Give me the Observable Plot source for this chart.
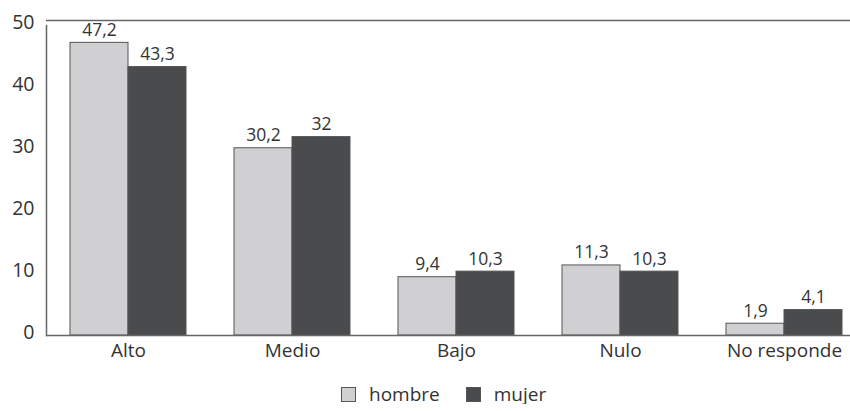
<!DOCTYPE html>
<html><head><meta charset="utf-8">
<script src="https://cdn.jsdelivr.net/npm/d3@7"></script>
<script src="https://cdn.jsdelivr.net/npm/@observablehq/plot@0.6"></script>
<style>
body{margin:0;background:#fff;overflow:hidden;font-family:"Open Sans",sans-serif;}
#legend{display:flex;align-items:center;height:20px;margin-top:6px;padding-left:341px;font-size:19px;color:#333;}
.sw{width:13px;height:13px;border:1px solid #555;display:inline-block;margin-right:13px;}
.item{display:flex;align-items:center;margin-right:26px;}
g[aria-label="fx-axis tick label"], g[aria-label="fx-axis tick label"] text{font-size:19px;fill:#333;}
</style></head><body><div id="chart"></div><div id="legend"></div>
<script>
const categories = ["Alto","Medio","Bajo","Nulo","No responde"];
const series = ["hombre","mujer"];
const hombre = [47.2,30.2,9.4,11.3,1.9];
const mujer = [43.3,32,10.3,10.3,4.1];
const yTicks = [0,10,20,30,40,50];
const colors = ["#d0d0d2","#4a4b4d"];

const data = categories.flatMap((c,i)=>[
  {cat:c, sexo:series[0], v:hombre[i]},
  {cat:c, sexo:series[1], v:mujer[i]}
]);
const fmt = v => String(v).replace(".", ",");

const plot = Plot.plot({
  width:850, height:378, marginLeft:46, marginRight:-16, marginTop:25, marginBottom:43,
  style:{fontFamily:'"Open Sans", sans-serif', color:"#333", background:"#fff"},
  fx:{domain:categories, padding:0, label:null, tickSize:0, tickPadding:8},
  x:{domain:series, paddingInner:0, paddingOuter:0.4, axis:null},
  y:{domain:[0,50], label:null},
  color:{domain:series, range:colors},
  marks:[
    Plot.barY(data,{fx:"cat", x:"sexo", y:"v", fill:"sexo", stroke:"#555", strokeWidth:1}),
    Plot.text(data,{fx:"cat", x:"sexo", y:"v", text:d=>fmt(d.v), lineAnchor:"bottom", dy:-7, fontSize:17.5, fill:"#333"}),
    Plot.axisY({ticks:yTicks, tickSize:0, tickPadding:12, dy:-3, fontSize:19.5, fill:"#333", label:null}),
    Plot.frame({anchor:"left", facetAnchor:"left", stroke:"#666", strokeWidth:1.5}),
    Plot.ruleY([0],{stroke:"#666", strokeWidth:1.5}),
    Plot.ruleY([50],{stroke:"#666", strokeWidth:1.5, dy:-5})
  ]
});
document.getElementById("chart").appendChild(plot);

const leg = document.getElementById("legend");
series.forEach((s,i)=>{
  const it = document.createElement("div"); it.className="item";
  const sw = document.createElement("span"); sw.className="sw"; sw.style.background=colors[i];
  const t = document.createElement("span"); t.textContent=s;
  it.appendChild(sw); it.appendChild(t); leg.appendChild(it);
});
</script></body></html>
